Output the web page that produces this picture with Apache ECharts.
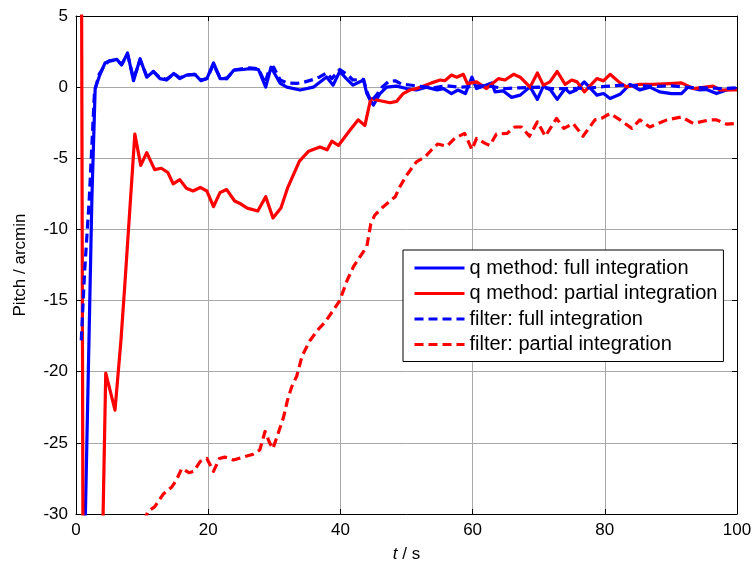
<!DOCTYPE html>
<html>
<head>
<meta charset="utf-8">
<script src="https://cdn.jsdelivr.net/npm/echarts@6/dist/echarts.min.js"></script>
<style>
  html, body { margin: 0; padding: 0; background: #fff; }
  #chart { width: 756px; height: 570px; }
</style>
</head>
<body>
<div id="chart"></div>
<script>
// Pitch error over time: q method vs. filter, full vs. partial integration.
// Each series is a list of [time (s), pitch (arcmin)] samples.

const xTicks = [0, 20, 40, 60, 80, 100];
const yTicks = [5, 0, -5, -10, -15, -20, -25, -30];

const seriesNames = [
  'q method: full integration',
  'q method: partial integration',
  'filter: full integration',
  'filter: partial integration'
];

const qFull = [
  [1.2,-35],[2.4,-7.9],[2.9,-0.1],[3.6,0.85],[4.4,1.7],[5.1,1.85],[6.2,1.95],[6.9,1.55],
  [7.8,2.4],[8.7,0.45],[9.7,2.0],[10.7,0.7],[11.7,1.1],[12.7,0.6],[13.7,0.5],[14.8,0.96],
  [15.7,0.6],[16.7,0.84],[18,0.9],[18.9,0.45],[19.8,0.6],[20.8,1.7],[21.8,0.6],[22.8,0.6],
  [23.9,1.2],[25.3,1.24],[26.3,1.3],[27.6,1.24],[28.7,0.0],[29.5,1.4],[30.9,0.26],[31.9,0.0],
  [33.9,-0.2],[35.9,0.0],[37.9,0.72],[38.9,0.14],[39.9,1.1],[40.9,0.6],[41.9,0.14],[43.5,0.5],
  [44.0,-0.45],[44.5,-0.9],[45,-1.26],[46,-0.45],[47,0.0],[48.5,0.07],[50,-0.1],[51.5,-0.2],
  [53,0],[54.6,-0.2],[55.6,-0.1],[56.8,-0.45],[57.8,-0.2],[58.9,-0.45],[59.9,0.7],[60.6,-0.1],
  [61.5,0.05],[62.9,0.3],[63.4,-0.33],[64.6,-0.26],[65.9,-0.72],[67.2,-0.56],[68.7,0.02],
  [69.8,-0.86],[70.7,0.07],[71.8,-0.2],[72.8,-0.86],[74,-0.1],[74.7,-0.4],[75.7,-0.2],
  [76.9,0.37],[78.8,-0.56],[79.8,-0.45],[80.8,-0.8],[82.3,-0.5],[83.8,0.2],[85.3,-0.2],
  [86.8,0.0],[88.3,-0.33],[90.1,-0.45],[91.6,-0.45],[92.6,0.0],[94.4,-0.2],[95.4,-0.16],
  [96.9,-0.45],[98.4,-0.2],[100,-0.1]
];

const qPartial = [
  [0.8,15],[1.1,-40],[3.9,-35],[4.5,-20.1],[5.9,-22.7],[6.8,-17.8],[7.4,-13.8],[8.9,-3.3],
  [9.8,-5.5],[10.7,-4.6],[11.9,-5.8],[12.9,-5.7],[13.9,-6.0],[14.7,-6.8],[15.7,-6.5],
  [16.7,-7.1],[17.7,-7.3],[18.8,-7.05],[19.8,-7.3],[20.8,-8.4],[21.8,-7.4],[22.8,-7.2],
  [24,-8.0],[24.9,-8.2],[25.9,-8.5],[27.5,-8.7],[28.7,-7.7],[29.8,-9.2],[31,-8.5],[32,-7.1],
  [33.8,-5.2],[35.2,-4.5],[36.9,-4.2],[38,-4.4],[38.7,-3.8],[39.7,-4.1],[41.5,-3.0],
  [42.7,-2.3],[43.7,-2.7],[44.6,-0.8],[45.5,-0.9],[47.5,-1.1],[48.5,-1.0],[49.5,-0.45],
  [50.5,-0.2],[51.5,-0.1],[52.5,0.07],[53.8,0.3],[55.1,0.5],[55.8,0.45],[56.8,0.85],
  [57.6,0.7],[58.6,0.9],[59.2,0.25],[60.6,0.37],[62.1,-0.1],[63.9,0.6],[64.9,0.5],[66.2,0.9],
  [67.2,0.7],[68.7,0.0],[69.8,1.0],[70.7,0.14],[71.7,0.37],[72.8,1.1],[74,0.2],[75,0.5],
  [75.8,0.37],[76.9,-0.33],[78.8,0.6],[79.8,0.44],[80.8,0.9],[82.3,0.3],[83.3,0.02],
  [85.3,0.2],[87.3,0.2],[89.8,0.25],[91.6,0.3],[93.4,-0.1],[96.4,0.07],[97.4,-0.2],[100,-0.2]
];

const fFull = [
  [0.8,-17.8],[1.3,-13],[2.0,-7.9],[2.8,-0.3],[3.5,0.9],[4.4,1.6],[5.1,1.85],[6.2,1.9],
  [6.9,1.6],[7.8,2.3],[8.7,0.6],[9.7,1.9],[10.7,0.8],[11.7,1.1],[12.7,0.65],[13.7,0.55],
  [14.8,0.95],[15.7,0.65],[16.7,0.85],[18,0.9],[18.9,0.5],[19.8,0.6],[20.8,1.6],[21.7,0.75],
  [22.8,0.6],[23.9,1.2],[25.3,1.3],[26.3,1.35],[27.6,1.3],[28.6,0.3],[29.2,1.2],[29.9,1.4],
  [30.9,0.5],[31.9,0.3],[33.4,0.26],[34.5,0.35],[35.9,0.54],[36.8,0.7],[37.9,1.0],[38.7,0.6],
  [39.9,1.24],[41,0.9],[41.9,0.5],[43.5,0.55],[44,-0.3],[44.6,-1.0],[45.4,-0.6],[46.3,0.0],
  [47.3,0.4],[48.3,0.45],[49.3,0.2],[50.5,0.15],[52,0.05],[54,-0.05],[56,0.1],[58,0.0],
  [60,0.05],[62,0.1],[65,-0.1],[67,-0.05],[70,0.0],[72,-0.1],[75,-0.1],[78,-0.05],[80,0.05],
  [83,0.15],[85,0.1],[88,0.05],[90,0.1],[92,0.0],[95,-0.05],[98,-0.1],[100,-0.05]
];

const fPartial = [
  [10.3,-30.5],[10.9,-29.8],[11.9,-29.5],[13.2,-28.6],[14.5,-28.1],[15.2,-27.6],[16,-26.8],
  [17.1,-27.1],[17.8,-27.0],[18.8,-26.3],[19.8,-26.1],[20.8,-27.0],[21.7,-26.1],[22.5,-26.0],
  [23.8,-26.2],[25.3,-26.0],[26.8,-25.8],[27.8,-25.5],[28.6,-24.2],[29.3,-25.0],[29.8,-25.4],
  [30.6,-24.3],[31.4,-23.2],[32,-22.0],[32.6,-21.1],[33.4,-20.3],[34.2,-18.9],[35.4,-17.8],
  [36.7,-17.0],[37.7,-16.5],[38.9,-15.7],[39.9,-15.0],[41,-13.6],[42,-12.6],[43,-11.9],
  [44,-11.2],[44.6,-9.6],[45.2,-9.0],[46.5,-8.4],[48.3,-7.7],[49,-7.0],[50,-6.2],[51.5,-5.25],
  [52.8,-4.9],[53.8,-4.4],[54.7,-4.0],[56.1,-4.15],[57.3,-3.6],[58.8,-3.25],[59.9,-4.4],
  [60.6,-3.6],[61.9,-3.95],[62.6,-4.1],[63.6,-3.3],[65.2,-3.25],[66.4,-2.8],[67.4,-2.8],
  [68.6,-3.45],[69.8,-2.44],[71,-3.45],[72.7,-2.2],[73.8,-2.9],[75.2,-2.55],[76.7,-3.45],
  [78.5,-2.3],[79.5,-2.2],[80.8,-1.85],[82.3,-2.3],[84.1,-2.9],[85.3,-2.3],[86.8,-2.8],
  [89.4,-2.3],[91.6,-2.1],[93.4,-2.55],[95.9,-2.3],[96.9,-2.3],[98.4,-2.6],[100,-2.55]
];

const FONT = '"Liberation Sans", Arial, sans-serif';
const BLUE = '#0000ff';
const RED = '#ff0000';
const LINE_W = 3.2;

const chart = echarts.init(document.getElementById('chart'), null, { renderer: 'canvas' });

const gridLine = { show: true, lineStyle: { color: '#a8a8a8', width: 1 } };
const boxLine = { show: true, onZero: false, lineStyle: { color: '#000', width: 1 } };
const inTick = { show: true, inside: true, length: 5, lineStyle: { color: '#000' } };

function makeLine(name, data, color, dashed) {
  return {
    name: name,
    type: 'line',
    data: data,
    symbol: 'none',
    clip: true,
    animation: false,
    lineStyle: { color: color, width: LINE_W, type: dashed ? [9, 5] : 'solid', cap: 'butt', join: 'round' },
    itemStyle: { color: color }
  };
}

chart.setOption({
  backgroundColor: '#fff',
  animation: false,
  grid: { left: 76, right: 19, top: 16, bottom: 56 },
  legend: {
    orient: 'vertical',
    left: 403,
    top: 250,
    data: seriesNames,
    backgroundColor: '#fff',
    borderColor: '#000',
    borderWidth: 1,
    borderRadius: 0,
    padding: [8, 6, 7, 10],
    itemGap: 5.5,
    itemWidth: 50,
    itemHeight: 20,
    // legend entries show only the line sample, no point marker
    itemStyle: { opacity: 0 },
    lineStyle: { width: 3 },
    textStyle: { fontFamily: FONT, fontSize: 20, lineHeight: 20, color: '#000' }
  },
  xAxis: [
    {
      type: 'value', min: xTicks[0], max: xTicks[xTicks.length - 1], interval: 20,
      axisLine: boxLine, axisTick: inTick, splitLine: gridLine,
      axisLabel: { color: '#000', fontFamily: FONT, fontSize: 17, margin: 8 },
      name: '{i|t} / s',
      nameLocation: 'middle',
      nameGap: 32,
      nameTextStyle: {
        color: '#000', fontFamily: FONT, fontSize: 17,
        rich: { i: { fontStyle: 'italic', fontFamily: FONT, fontSize: 17, color: '#000' } }
      }
    },
    {
      type: 'value', position: 'top', min: xTicks[0], max: xTicks[xTicks.length - 1], interval: 20,
      axisLine: boxLine, axisTick: inTick, splitLine: { show: false }, axisLabel: { show: false }
    }
  ],
  yAxis: [
    {
      type: 'value', min: yTicks[yTicks.length - 1], max: yTicks[0], interval: 5,
      axisLine: boxLine, axisTick: inTick, splitLine: gridLine,
      axisLabel: { color: '#000', fontFamily: FONT, fontSize: 17, margin: 8 },
      name: 'Pitch / arcmin',
      nameLocation: 'middle',
      nameGap: 47,
      nameTextStyle: { color: '#000', fontFamily: FONT, fontSize: 17 }
    },
    {
      type: 'value', position: 'right', min: yTicks[yTicks.length - 1], max: yTicks[0], interval: 5,
      axisLine: boxLine, axisTick: inTick, splitLine: { show: false }, axisLabel: { show: false }
    }
  ],
  series: [
    makeLine(seriesNames[0], qFull, BLUE, false),
    makeLine(seriesNames[1], qPartial, RED, false),
    makeLine(seriesNames[2], fFull, BLUE, true),
    makeLine(seriesNames[3], fPartial, RED, true)
  ]
});
</script>
</body>
</html>
